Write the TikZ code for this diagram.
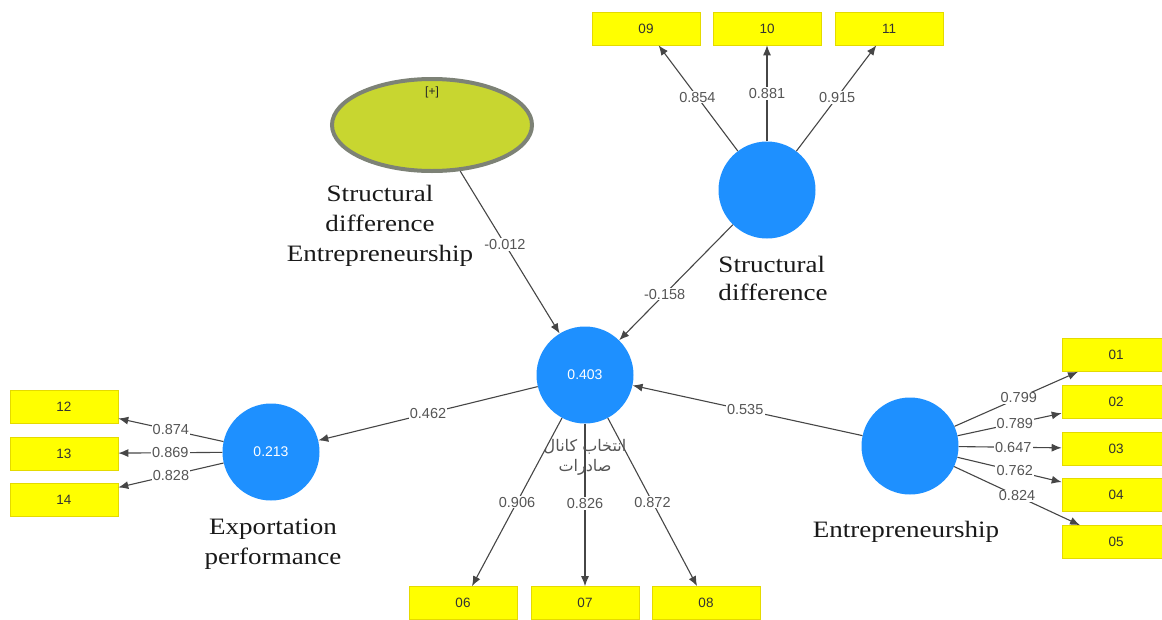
\documentclass[tikz,border=0pt]{standalone}
\usepackage{fontspec}
\setmainfont{Liberation Serif}
\newfontfamily\lblfont{Liberation Sans}
\newfontfamily\serifw[FakeStretch=1.15]{Liberation Serif}
\newfontfamily\arabicfont[Script=Arabic]{DejaVu Sans}
\TeXXeTstate=1
\usetikzlibrary{arrows.meta,shapes.geometric}
\definecolor{lvblue}{RGB}{30,144,255}
\definecolor{boxyellow}{RGB}{255,255,0}
\definecolor{boxedge}{RGB}{228,218,0}
\definecolor{ellfill}{RGB}{200,214,48}
\definecolor{ellborder}{RGB}{125,130,118}
\definecolor{edgegray}{RGB}{70,70,70}
\definecolor{lblgray}{RGB}{85,85,85}
\begin{document}
\begin{tikzpicture}[x=1pt,y=-1pt,
  latent/.style={circle,fill=lvblue,minimum size=97pt,inner sep=0pt,text=white,font=\lblfont\fontsize{14}{16}\selectfont},
  indic/.style={rectangle,fill=boxyellow,draw=boxedge,line width=0.6pt,minimum width=108pt,minimum height=33pt,inner sep=0pt,font=\lblfont\fontsize{13.5}{15}\selectfont,text=black!80},
  conn/.style={draw=edgegray,line width=1.1pt,-{Latex[length=10pt,width=8pt]}},
  coef/.style={fill=white,inner sep=1.2pt,text=lblgray,font=\lblfont\fontsize{14.5}{16}\selectfont},
  caption/.style={font=\serifw\fontsize{23.5}{30}\selectfont,text=black!90}
]
\useasboundingbox (0,0) rectangle (1162,619);

% latent variables
\node[ellipse,fill=ellfill,draw=ellborder,line width=4pt,minimum width=200pt,minimum height=92pt] (sde) at (432,125) {};
\node[font=\lblfont\fontsize{12}{14}\selectfont,text=black!85] (plus) at (432,92) {[+]};
\node[latent] (ecs) at (585,375) {0.403};
\node[latent] (sd) at (767,190) {};
\node[latent] (ep) at (271,452) {0.213};
\node[latent] (en) at (910,446) {};

% indicators
\node[indic] (i09) at (646,28.5) {09};
\node[indic] (i10) at (767,28.5) {10};
\node[indic] (i11) at (889,28.5) {11};
\node[indic] (i12) at (64,406.5) {12};
\node[indic] (i13) at (64,453.5) {13};
\node[indic] (i14) at (64,500) {14};
\node[indic] (i01) at (1116,355) {01};
\node[indic] (i02) at (1116,401.5) {02};
\node[indic] (i03) at (1116,448.5) {03};
\node[indic] (i04) at (1116,495) {04};
\node[indic] (i05) at (1116,542) {05};
\node[indic] (i06) at (463,603) {06};
\node[indic] (i07) at (585,603) {07};
\node[indic] (i08) at (706,603) {08};

% structural paths
\draw[conn] (sde) -- node[coef,pos=0.45] {-0.012} (ecs);
\draw[conn] (sd) -- node[coef,pos=0.60] {-0.158} (ecs);
\draw[conn] (ecs) -- node[coef,pos=0.50] {0.462} (ep);
\draw[conn] (en) -- node[coef,pos=0.51] {0.535} (ecs);

% outer loadings
\draw[conn] (ecs) -- node[coef,pos=0.5] {0.906} (i06);
\draw[conn] (ecs) -- node[coef,pos=0.49] {0.826} (i07);
\draw[conn] (ecs) -- node[coef,pos=0.5] {0.872} (i08);
\draw[conn] (sd) -- node[coef,pos=0.51] {0.854} (i09);
\draw[conn] (sd) -- node[coef,pos=0.50] {0.881} (i10);
\draw[conn] (sd) -- node[coef,pos=0.51] {0.915} (i11);
\draw[conn] (ep) -- node[coef,pos=0.5] {0.874} (i12);
\draw[conn] (ep) -- node[coef,pos=0.5] {0.869} (i13);
\draw[conn] (ep) -- node[coef,pos=0.5] {0.828} (i14);
\draw[conn] (en) -- node[coef,pos=0.52] {0.799} (i01);
\draw[conn] (en) -- node[coef,pos=0.55] {0.789} (i02);
\draw[conn] (en) -- node[coef,pos=0.53] {0.647} (i03);
\draw[conn] (en) -- node[coef,pos=0.55] {0.762} (i04);
\draw[conn] (en) -- node[coef,pos=0.50] {0.824} (i05);

% captions
\node[caption,align=center] (sdecap) at (380,226) {Structural\\difference\\Entrepreneurship};
\node[caption,align=left,font=\serifw\fontsize{23.5}{28}\selectfont] (sdcap) at (773,278) {Structural\\difference};
\node[caption,align=center] (epcap) at (273,544) {Exportation\\performance};
\node[caption] (encap) at (906,532) {Entrepreneurship};
\node[text=lblgray,font=\arabicfont\fontsize{16}{20}\selectfont,align=center] (ecscap) at (585,457) {\beginR انتخاب کانال\endR\\\beginR صادرات\endR};
\end{tikzpicture}
\end{document}
